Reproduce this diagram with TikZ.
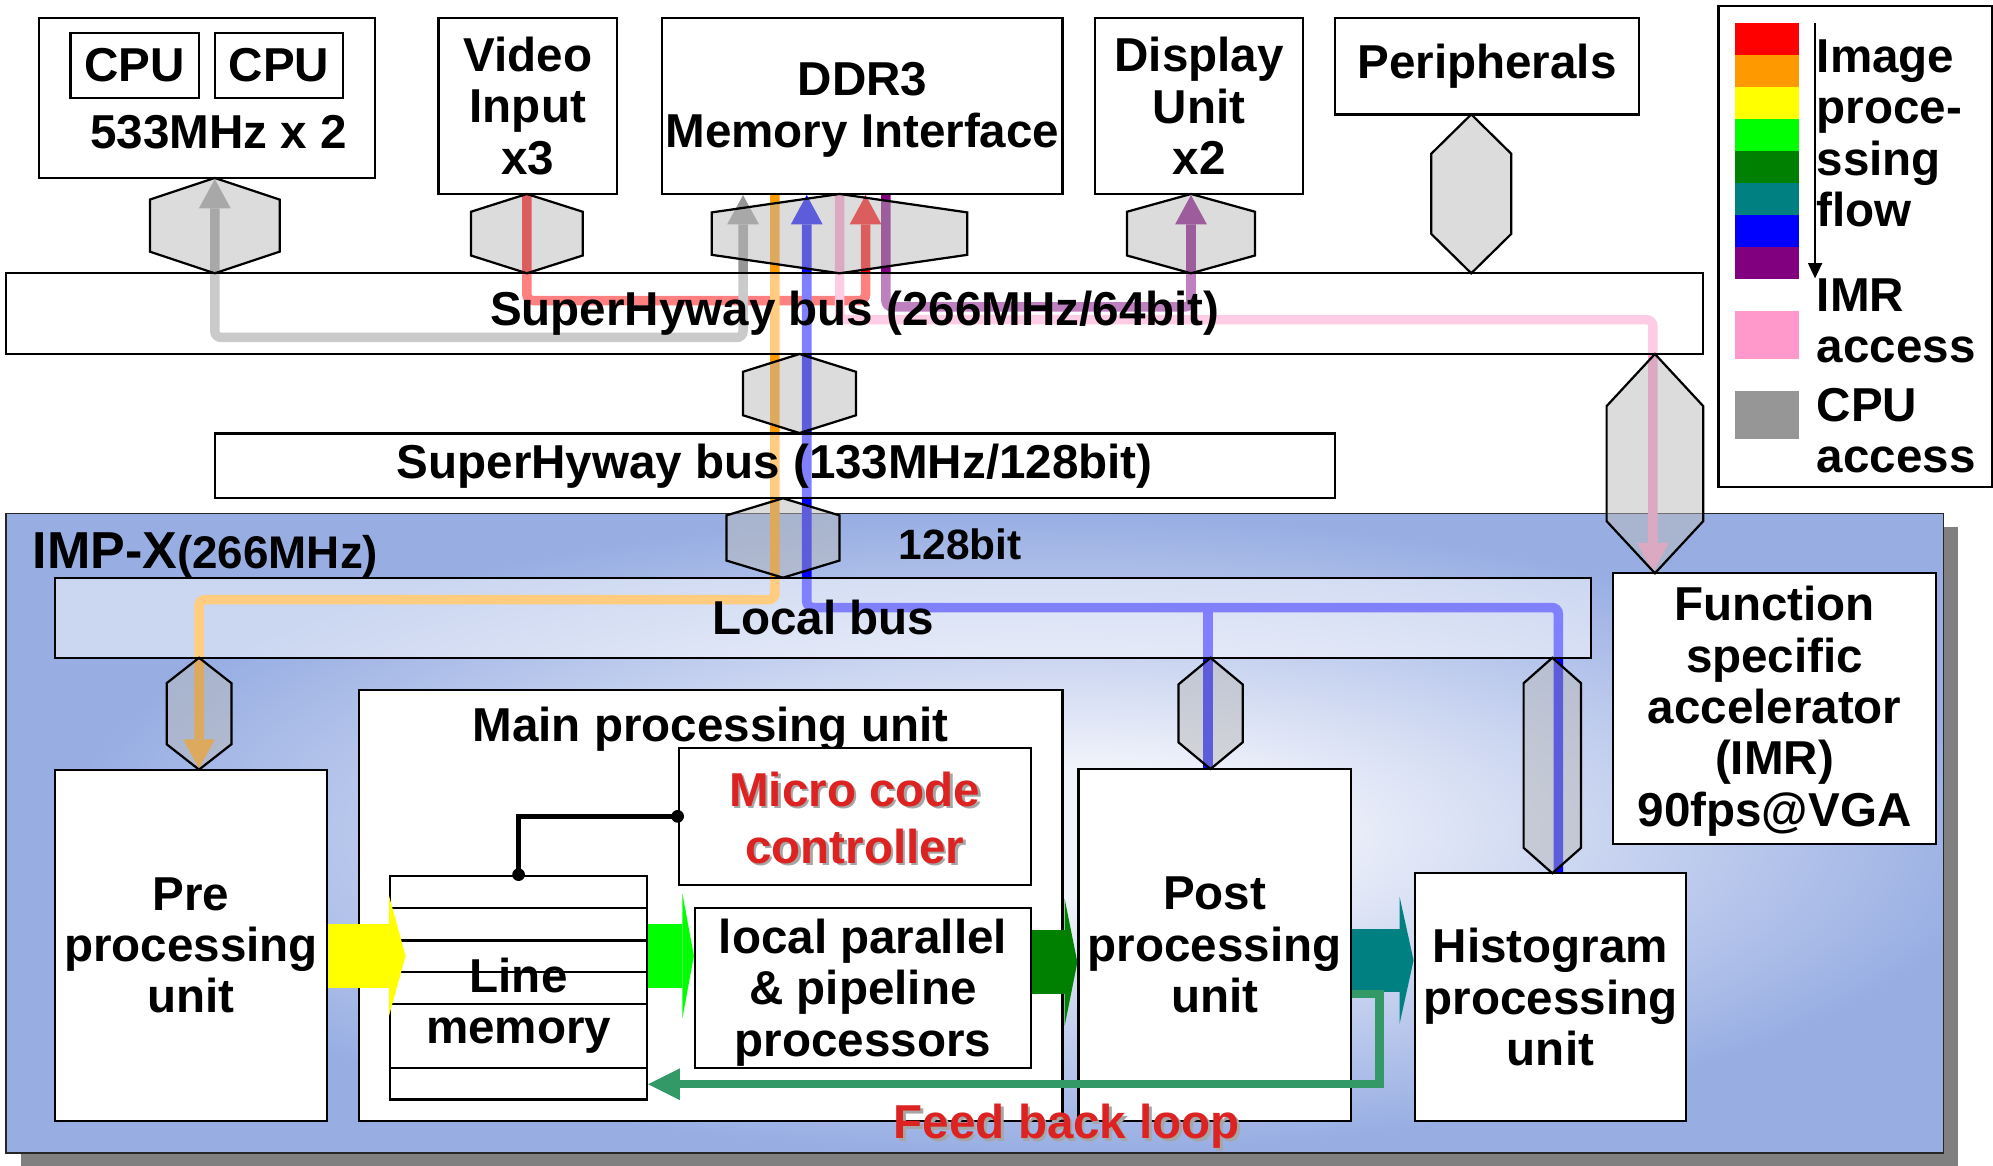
\documentclass[tikz,border=0pt]{standalone}
\usepackage{fontspec}
\setmainfont{Liberation Sans}
\usetikzlibrary{arrows.meta,fit,shadows}

\definecolor{flowred}{HTML}{FF0000}
\definecolor{floworange}{HTML}{FF9900}
\definecolor{flowyellow}{HTML}{FFFF00}
\definecolor{flowgreen}{HTML}{00FF00}
\definecolor{flowdkgreen}{HTML}{008000}
\definecolor{flowteal}{HTML}{008080}
\definecolor{flowblue}{HTML}{0000FF}
\definecolor{flowpurple}{HTML}{800080}
\definecolor{imrpink}{HTML}{FF99CC}
\definecolor{cpugray}{HTML}{969696}
\definecolor{loopgreen}{HTML}{339966}
\definecolor{impblue}{HTML}{98AEE3}
\definecolor{impcore}{HTML}{F2F4FB}
\definecolor{mcred}{HTML}{DD2222}

\pgfdeclareradialshading{impglow}{\pgfpoint{3bp}{0bp}}{color(0bp)=(impcore); color(5bp)=(impcore); color(25bp)=(impblue); color(50bp)=(impblue)}

\newcommand{\blockfont}{\fontsize{21.3pt}{23pt}\selectfont\bfseries}
\newcommand{\shadowtext}[1]{\leavevmode\rlap{\kern1.1pt\raisebox{-1.1pt}{\color{black!35}#1}}{\color{mcred}#1}}
% bus bridge: centre x, half width, top y, bottom y, corner depth
\newcommand{\hexgate}[5]{\draw[hexbridge] ({#1-#2},{#3+#5}) -- (#1,#3) -- ({#1+#2},{#3+#5}) -- ({#1+#2},{#4-#5}) -- (#1,#4) -- ({#1-#2},{#4-#5}) -- cycle;}

\begin{document}
\begin{tikzpicture}[x=0.02cm,y=-0.02cm,font=\blockfont,
  unitbox/.style={draw,fill=white,line width=1pt,inner sep=0pt},
  busbox/.style={draw,fill=white,fill opacity=0.5,line width=1pt,inner sep=0pt},
  boxtext/.style={align=center,inner sep=0pt},
  hexbridge/.style={draw,line width=1pt,fill=black!27,fill opacity=0.5},
  flowline/.style={line width=0.15cm,rounded corners=1mm},
  >={Triangle[length=0.46cm,width=0.5cm,line width=0pt]}]
\useasboundingbox (0,0) rectangle (1568,917);

% IMP-X body
\node[fit={(5,404) (1529,907)},inner sep=0pt,draw=black!85,line width=0.8pt,shading=impglow,
  drop shadow={shadow xshift=0.23cm,shadow yshift=-0.22cm,opacity=1,fill=black!50}] (impx) {};

% top row
\node[unitbox,fit={(30.6,14) (295,140)}] (cpu) {};
\node[unitbox,fit={(55.5,26) (156.7,77)}] (cpu1) {};
\node[boxtext] (cpu1-t) at (cpu1) {CPU};
\node[unitbox,fit={(169,26) (270,77)}] (cpu2) {};
\node[boxtext] (cpu2-t) at (cpu2) {CPU};
\node[anchor=base] (cpuclk) at (172,116.7) {533MHz x 2};
\node[unitbox,fit={(345,14) (485.5,152.6)}] (vin) {};
\node[boxtext] (vin-t) at (vin) {Video\\Input\\x3};
\node[unitbox,fit={(521,14) (836,152.6)}] (ddr) {};
\node[boxtext,yshift=-0.06cm] (ddr-t) at (ddr) {DDR3\\Memory Interface};
\node[unitbox,fit={(861.7,14) (1025,152.6)}] (dsp) {};
\node[boxtext] (dsp-t) at (dsp) {Display\\Unit\\x2};
\node[unitbox,fit={(1050,14) (1289.7,90)}] (peri) {};
\node[boxtext] (peri-t) at (peri) {Peripherals};

% legend
\node[unitbox,fit={(1352,4.7) (1567,383)}] (legend) {};
\fill[flowred] (1365,17.8) rectangle (1415.5,43);
\fill[floworange] (1365,43) rectangle (1415.5,68.2);
\fill[flowyellow] (1365,68.2) rectangle (1415.5,93.4);
\fill[flowgreen] (1365,93.4) rectangle (1415.5,118.6);
\fill[flowdkgreen] (1365,118.6) rectangle (1415.5,143.8);
\fill[flowteal] (1365,143.8) rectangle (1415.5,169);
\fill[flowblue] (1365,169) rectangle (1415.5,194.2);
\fill[flowpurple] (1365,194.2) rectangle (1415.5,219.4);
\fill[imrpink] (1365,244.5) rectangle (1415.5,282.5);
\fill[cpugray] (1365,307.4) rectangle (1415.5,345);
\draw[line width=0.8pt,-{Triangle[length=0.24cm,width=0.22cm]}] (1428,17.8) -- (1428,219);
\node[anchor=north west,align=left,inner sep=0pt] (lgflow) at (1429,31) {Image\\proce-\\ssing\\flow};
\node[anchor=north west,align=left,inner sep=0pt] (lgimr) at (1429,218.6) {IMR\\access};
\node[anchor=north west,align=left,inner sep=0pt] (lgcpu) at (1429,305) {CPU\\access};

% units inside IMP-X
\node[unitbox,fit={(43.4,605.5) (257.3,882)}] (pre) {};
\node[boxtext] (pre-t) at (pre) {Pre\\processing\\unit};
\node[unitbox,fit={(282.7,543) (836,882)}] (mpu) {};
\node[anchor=base] (mpu-t) at (559,583.4) {Main processing unit};
\node[unitbox,fit={(534,588.5) (811,696)}] (micro) {};
\node[boxtext,font=\fontsize{21.3pt}{25.6pt}\selectfont\bfseries,yshift=-0.04cm] (micro-t) at (micro) {\shadowtext{Micro code}\\\shadowtext{controller}};
\node[unitbox,fit={(307,689) (509,865)}] (linemem) {};
\draw[line width=1pt] (linemem.west |- 0,714.5) -- (linemem.east |- 0,714.5);
\draw[line width=1pt] (linemem.west |- 0,740) -- (linemem.east |- 0,740);
\draw[line width=1pt] (linemem.west |- 0,765) -- (linemem.east |- 0,765);
\draw[line width=1pt] (linemem.west |- 0,790) -- (linemem.east |- 0,790);
\draw[line width=1pt] (linemem.west |- 0,840) -- (linemem.east |- 0,840);
\node[boxtext] (linemem-t) at (408,791.4) {Line\\memory};
\node[unitbox,fit={(546.8,714.5) (811,840)}] (lpp) {};
\node[boxtext,yshift=-0.07cm] (lpp-t) at (lpp) {local parallel\\\& pipeline\\processors};
\node[unitbox,fit={(848.5,605) (1062.8,882)}] (post) {};
\node[boxtext] (post-t) at (post) {Post\\processing\\unit};
\node[unitbox,fit={(1113,687) (1326.7,882)}] (hist) {};
\node[boxtext] (hist-t) at (hist) {Histogram\\processing\\unit};
\node[unitbox,fit={(1269.3,451) (1523,664)}] (imr) {};
\node[boxtext,yshift=-0.04cm] (imr-t) at (imr) {Function\\specific\\accelerator\\(IMR)\\90fps@VGA};

% ports
\coordinate (cpu-p) at (cpu.south -| 169,0);
\coordinate (vin-p) at (vin.south -| 414.5,0);
\coordinate (dsp-p) at (dsp.south -| 937,0);
\coordinate (ddr-c) at (ddr.south -| 584.6,0);
\coordinate (ddr-o) at (ddr.south -| 609.7,0);
\coordinate (ddr-b) at (ddr.south -| 634.7,0);
\coordinate (ddr-i) at (ddr.south -| 660.6,0);
\coordinate (ddr-v) at (ddr.south -| 681,0);
\coordinate (ddr-d) at (ddr.south -| 697,0);
\coordinate (pre-p) at (pre.north -| 156.6,0);
\coordinate (post-p) at (post.north -| 950.4,0);
\coordinate (hist-p) at (hist.north -| 1226,0);
\coordinate (imr-p) at (imr.north -| 1300.4,0);

% data paths
\draw[flowline,flowred,->] (vin-p) -- (vin-p |- 0,236.5) -| (ddr-v);
\draw[flowline,cpugray,<->] (cpu-p) -- (cpu-p |- 0,265.5) -| (ddr-c);
\draw[flowline,floworange,->] (ddr-o) -- (ddr-o |- 0,471.7) -| (pre-p);
\draw[flowline,flowblue,->] (hist-p) |- (ddr-b |- 0,478) -- (ddr-b);
\draw[flowline,flowblue] (post-p) -- (post-p |- 0,478);
\draw[flowline,imrpink,->] (ddr-i) -- (ddr-i |- 0,251.5) -| (imr-p);
\draw[flowline,flowpurple,->] (ddr-d) -- (ddr-d |- 0,241.5) -| (dsp-p);

% buses
\node[busbox,fit={(5,215) (1340,278.5)}] (shb1) {};
\node[boxtext] (shb1-t) at (shb1) {SuperHyway bus (266MHz/64bit)};
\node[busbox,fit={(169,341) (1050,392)}] (shb2) {};
\node[boxtext] (shb2-t) at (shb2) {SuperHyway bus (133MHz/128bit)};
\node[busbox,fit={(43.4,454.5) (1252,517.5)}] (lbus) {};
\node[boxtext] (lbus-t) at (lbus) {Local bus};

% bridges
\hexgate{169}{51}{140}{215}{17}
\hexgate{414.5}{44}{152.6}{215}{14}
\hexgate{660.5}{100.5}{152.6}{215}{14.5}
\hexgate{937}{50.4}{152.6}{215}{14}
\hexgate{1157.5}{31.5}{90}{215}{31}
\hexgate{629}{44.5}{278.5}{340.7}{14}
\hexgate{616}{44.5}{392}{454.5}{13.5}
\hexgate{156.6}{25.5}{517.5}{605.5}{20}
\hexgate{952.4}{25.3}{517.5}{605}{21}
\hexgate{1221.3}{22.6}{517.5}{687}{20}
\hexgate{1302}{38}{278.5}{451}{41}

% processing flow
\draw[line width=1cm,flowyellow,-{Triangle[length=0.26cm,width=1.88cm,line width=0pt]},shorten >=-0.26cm] (pre.east |- 0,752) -- (linemem.west |- 0,752);
\draw[line width=1cm,flowgreen,-{Triangle[length=0.18cm,width=1.96cm,line width=0pt]}] (linemem.east |- 0,752) -- (lpp.west |- 0,752);
\draw[line width=1cm,flowdkgreen,-{Triangle[length=0.2cm,width=2cm,line width=0pt]}] (lpp.east |- 0,757) -- (post.west |- 0,757);
\draw[line width=1cm,flowteal,-{Triangle[length=0.22cm,width=2cm,line width=0pt]}] (post.east |- 0,755.5) -- (hist.west |- 0,755.5);
\draw[line width=0.134cm,loopgreen,-{Triangle[length=0.5cm,width=0.5cm,line width=0pt]}] (post.east |- 0,782) -- ++(21.5,0) |- (linemem.east |- 0,853);

% control
\draw[line width=2pt] (micro.west) -| (linemem.north);
\fill (micro.west) circle (0.1cm);
\fill (linemem.north) circle (0.1cm);

% labels
\node[anchor=base west] (impx-t) at (19.5,447.4) {\fontsize{23.3pt}{25pt}\selectfont IMP-X\fontsize{20.5pt}{23pt}\selectfont(266MHz)};
\node[anchor=base west,font=\fontsize{19pt}{21pt}\selectfont\bfseries] (buswidth) at (701,440) {128bit};
\node[anchor=base west] (fbl) at (697,896) {\shadowtext{Feed back loop}};
\end{tikzpicture}
\end{document}
